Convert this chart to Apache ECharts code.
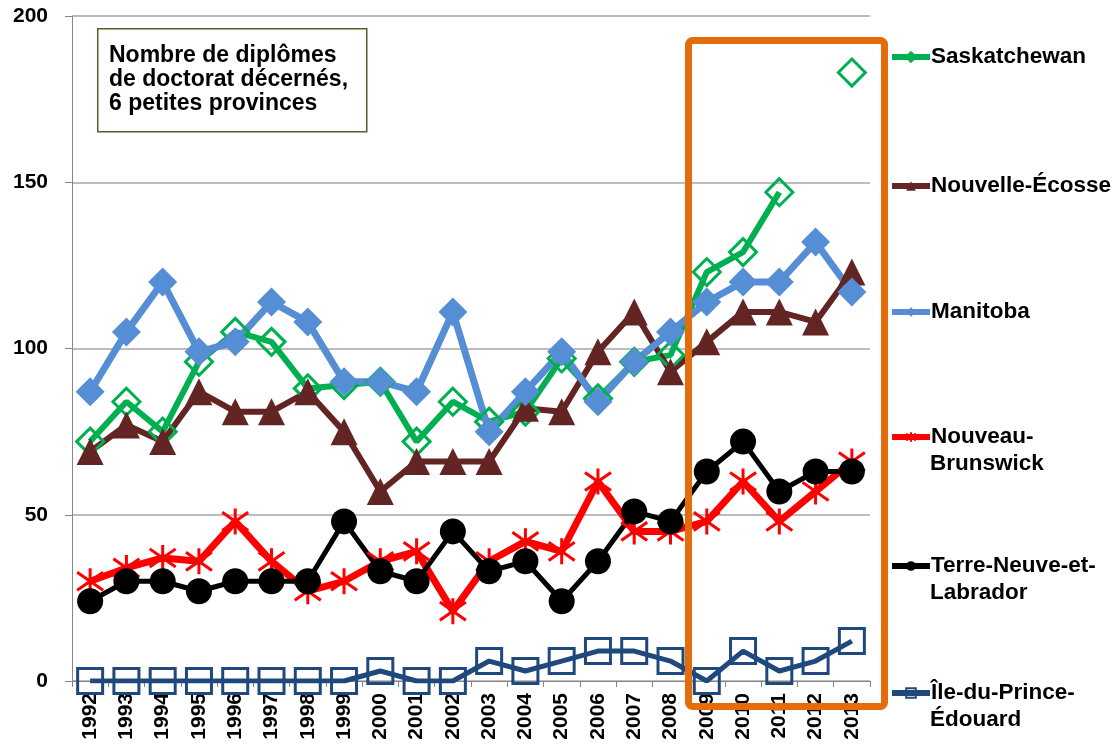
<!DOCTYPE html>
<html>
<head>
<meta charset="utf-8">
<script src="https://cdn.jsdelivr.net/npm/echarts@6/dist/echarts.min.js"></script>
<style>
  html, body { margin: 0; padding: 0; background: #fff; }
  #chart { width: 1120px; height: 749px; }
</style>
</head>
<body>
<div id="chart"></div>
<script>
const years = ['1992','1993','1994','1995','1996','1997','1998','1999','2000','2001','2002',
  '2003','2004','2005','2006','2007','2008','2009','2010','2011','2012','2013']

const saskatchewan = [72, 84, 75, 96, 105, 102, 88, 89, 90, 72, 84, 78, 81, 97, 85, 96, 98, 123, 129, 147, null, 183]
const nouvelleEcosse = [69, 77, 72, 87, 81, 81, 87, 75, 57, 66, 66, 66, 82, 81, 99, 111, 93, 102, 111, 111, 108, 123]
const manitoba = [87, 105, 120, 99, 102, 114, 108, 90, 90, 87, 111, 75, 87, 99, 84, 96, 105, 114, 120, 120, 132, 117]
const nouveauBrunswick = [30, 34, 37, 36, 48, 36, 27, 30, 36, 39, 21, 36, 42, 39, 60, 45, 45, 48, 60, 48, 57, 66]
const terreNeuve = [24, 30, 30, 27, 30, 30, 30, 48, 33, 30, 45, 33, 36, 24, 36, 51, 48, 63, 72, 57, 63, 63]
const ilePE = [0, 0, 0, 0, 0, 0, 0, 0, 3, 0, 0, 6, 3, 6, 9, 9, 6, 0, 9, 3, 6, 12]

const yTicks = [0, 50, 100, 150, 200]

// first line / second line of each legend entry
const legendLines = [
  ['Saskatchewan', ''],
  ['Nouvelle-Écosse', ''],
  ['Manitoba', ''],
  ['Nouveau-', 'Brunswick'],
  ['Terre-Neuve-et-', 'Labrador'],
  ['Île-du-Prince-', 'Édouard']
]
const names = ['Saskatchewan', 'Nouvelle-Écosse', 'Manitoba', 'Nouveau-Brunswick',
  'Terre-Neuve-et-Labrador', 'Île-du-Prince-Édouard']

const font = 'Arial, "Liberation Sans", sans-serif'
const asterisk = 'path://M0,-10L0,10M-8,-7L8,7M-8,7L8,-7'

const chart = echarts.init(document.getElementById('chart'))

function lineSeries(name, data, color, width, symbol, size, hollow) {
  return {
    name: name,
    type: 'line',
    data: data,
    symbol: symbol,
    symbolSize: size,
    showAllSymbol: true,
    connectNulls: false,
    animation: false,
    lineStyle: { color: color, width: width },
    itemStyle: hollow
      ? { color: 'rgba(255,255,255,0)', borderColor: color, borderWidth: 3 }
      : (symbol === asterisk
        ? { color: color, borderColor: color, borderWidth: 3 }
        : { color: color, borderWidth: 0 }),
    emphasis: { disabled: true }
  }
}

const legendCenters = [57, 186, 312, 437, 566, 693]

const legends = names.map((n, i) => ({
  data: [n],
  left: 889,
  top: legendCenters[i] - 13,
  padding: 0,
  itemWidth: 38,
  itemHeight: 12,
  itemGap: 2,
  selectedMode: false,
  lineStyle: { width: 6 },
  formatter: () => legendLines[i][0],
  textStyle: { fontFamily: font, fontWeight: 'bold', fontSize: 22.5, color: '#000', lineHeight: 26, padding: [0, 0, 0, -4] }
}))

const secondLines = legendLines.map((l, i) => l[1] ? {
  type: 'text',
  left: 930,
  top: legendCenters[i] + 15,
  style: { text: l[1], font: 'bold 22.5px ' + font, fill: '#000' }
} : null).filter(Boolean)

chart.setOption({
  backgroundColor: '#fff',
  animation: false,
  grid: { left: 72, top: 16, right: 250, bottom: 68 },
  legend: legends,
  xAxis: {
    type: 'category',
    data: years,
    boundaryGap: true,
    axisLine: { lineStyle: { color: '#868686', width: 1 } },
    axisTick: { show: true, length: 6, lineStyle: { color: '#868686' } },
    axisLabel: {
      rotate: 90, margin: 12, interval: 0,
      fontFamily: font, fontWeight: 'bold', fontSize: 21, color: '#000'
    },
    splitLine: { show: false }
  },
  yAxis: {
    type: 'value',
    min: yTicks[0],
    max: yTicks[yTicks.length - 1],
    interval: 50,
    axisLine: { show: true, lineStyle: { color: '#868686', width: 1 } },
    axisTick: { show: true, length: 7, lineStyle: { color: '#868686' } },
    axisLabel: { margin: 24, fontFamily: font, fontWeight: 'bold', fontSize: 21, color: '#000' },
    splitLine: { lineStyle: { color: '#a6a6a6', width: 1.5 } }
  },
  series: [
    lineSeries(names[0], saskatchewan, '#00b050', 6, 'diamond', 27, true),
    lineSeries(names[1], nouvelleEcosse, '#632523', 6, 'triangle', 27, false),
    lineSeries(names[2], manitoba, '#558ed5', 7, 'diamond', 29, false),
    lineSeries(names[3], nouveauBrunswick, '#ff0000', 7, asterisk, 26, false),
    lineSeries(names[4], terreNeuve, '#000000', 5, 'circle', 26, false),
    lineSeries(names[5], ilePE, '#1f497d', 5, 'rect', 25, true)
  ],
  graphic: [
    {
      type: 'rect',
      left: 97, top: 28,
      shape: { width: 269, height: 103 },
      style: { fill: '#fff', stroke: '#4f6228', lineWidth: 1.5 },
      z: 10
    },
    {
      type: 'text',
      left: 109, top: 44,
      style: {
        text: 'Nombre de diplômes\nde doctorat décernés,\n6 petites provinces',
        font: 'bold 23px ' + font,
        lineHeight: 24,
        fill: '#000'
      },
      z: 11
    },
    {
      type: 'rect',
      left: 685, top: 37,
      shape: { width: 196, height: 666, r: 4 },
      style: { fill: 'none', stroke: '#e46c0a', lineWidth: 7 },
      z: 20
    }
  ].concat(secondLines)
})
</script>
</body>
</html>
